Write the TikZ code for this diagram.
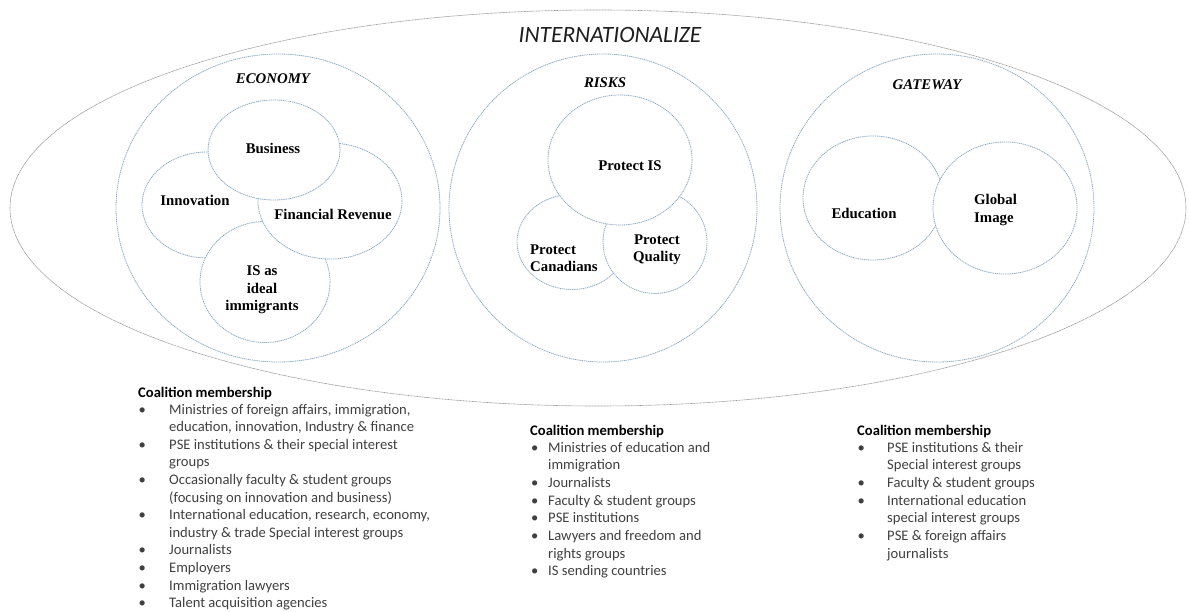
\documentclass[tikz,border=0pt]{standalone}
\usepackage{fontspec}
\setmainfont{Liberation Serif}
\newfontfamily\calibri{Carlito}
\usetikzlibrary{shapes.geometric}
\definecolor{ringblue}{RGB}{140,172,198}
\definecolor{ringgray}{RGB}{150,150,150}
\definecolor{itemgray}{RGB}{64,64,64}
\tikzset{
  ring/.style={ellipse, draw=ringblue, fill=white, line width=0.8pt,
    dash pattern=on 1.2pt off 0.7pt, inner sep=0pt},
  outerring/.style={ellipse, draw=ringgray, line width=0.6pt,
    dash pattern=on 1pt off 0.5pt, inner sep=0pt},
  lab/.style={font=\fontsize{14.8}{17.5}\selectfont\bfseries, inner sep=0pt, align=center},
  cat/.style={font=\fontsize{14.8}{17.5}\selectfont\bfseries\itshape, inner sep=0pt},
  ctitle/.style={anchor=base west, inner sep=0pt, text=black,
    font=\calibri\fontsize{14.6}{17.6}\selectfont\bfseries},
  citem/.style={anchor=base west, inner sep=0pt, text=itemgray,
    font=\calibri\fontsize{14.6}{17.6}\selectfont},
}
\begin{document}
\begin{tikzpicture}[x=1pt,y=-1pt]
\useasboundingbox (0,0) rectangle (1189,612);
% outer
\node[outerring, minimum width=1176pt, minimum height=396pt] (outer) at (598,208) {};
\node[inner sep=0pt, font=\calibri\fontsize{23.4}{28}\selectfont\itshape, text={rgb,255:red,30;green,30;blue,30}] (intl) at (610,35) {INTERNATIONALIZE};

% ECONOMY
\node[ring, minimum width=324pt, minimum height=308pt] (econ) at (278,208) {};
\node[cat] (econlab) at (273,79) {ECONOMY};
\node[ring, minimum width=130pt, minimum height=106pt] (innov) at (207,205) {};
\node[ring, minimum width=130pt, minimum height=121pt] (isc) at (265,282) {};
\node[ring, minimum width=144pt, minimum height=116pt] (fin) at (330,201) {};
\node[ring, minimum width=132pt, minimum height=100pt] (bus) at (274,150) {};
\node[lab] (buslab) at (273,148) {Business};
\node[lab] (innovlab) at (195,200) {Innovation};
\node[lab] (finlab) at (333,214) {Financial Revenue};
\node[lab] (islab) at (262,290) {IS as\\ideal\\immigrants};

% RISKS
\node[ring, minimum width=308pt, minimum height=308pt] (risk) at (603,208) {};
\node[cat] (risklab) at (605,83) {RISKS};
\node[ring, minimum width=110pt, minimum height=95pt] (canad) at (572,242) {};
\node[ring, minimum width=104pt, minimum height=103pt] (qual) at (655,242) {};
\node[ring, minimum width=144pt, minimum height=130pt] (pis) at (620,160) {};
\node[lab] (pislab) at (630,166) {Protect IS};
\node[lab, align=left, anchor=west] (canlab) at (530,258) {Protect\\Canadians};
\node[lab] (quallab) at (657,250) {Protect\\Quality};

% GATEWAY
\node[ring, minimum width=314pt, minimum height=308pt] (gate) at (937,208) {};
\node[cat] (gatelab) at (927,85) {GATEWAY};
\node[ring, minimum width=140pt, minimum height=124pt] (edu) at (873,198) {};
\node[ring, minimum width=144pt, minimum height=132pt] (glob) at (1005,208) {};
\node[lab] (edulab) at (864,213) {Education};
\node[lab, align=left, anchor=west] (globlab) at (974,210) {Global\\Image};

% Coalition block 1
\node[ctitle] (a0) at (138,397.5) {Coalition membership};
\node[citem] (a1b) at (138.5,414) {\textbullet};
\node[citem] (a1) at (169,414) {Ministries of foreign affairs, immigration,};
\node[citem] (a2) at (169,431.6) {education, innovation, Industry \& finance};
\node[citem] (a3b) at (138.5,449.2) {\textbullet};
\node[citem] (a3) at (169,449.2) {PSE institutions \& their special interest};
\node[citem] (a4) at (169,466.8) {groups};
\node[citem] (a5b) at (138.5,484.4) {\textbullet};
\node[citem] (a5) at (169,484.4) {Occasionally faculty \& student groups};
\node[citem] (a6) at (169,502) {(focusing on innovation and business)};
\node[citem] (a7b) at (138.5,519.6) {\textbullet};
\node[citem] (a7) at (169,519.6) {International education, research, economy,};
\node[citem] (a8) at (169,537.2) {industry \& trade Special interest groups};
\node[citem] (a9b) at (138.5,554.8) {\textbullet};
\node[citem] (a9) at (169,554.8) {Journalists};
\node[citem] (a10b) at (138.5,572.4) {\textbullet};
\node[citem] (a10) at (169,572.4) {Employers};
\node[citem] (a11b) at (138.5,590) {\textbullet};
\node[citem] (a11) at (169,590) {Immigration lawyers};
\node[citem] (a12b) at (138.5,607.6) {\textbullet};
\node[citem] (a12) at (169,607.6) {Talent acquisition agencies};

% Coalition block 2
\node[ctitle] (b0) at (530,435) {Coalition membership};
\node[citem] (b1b) at (531,452) {\textbullet};
\node[citem] (b1) at (548,452) {Ministries of education and};
\node[citem] (b2) at (548,469.7) {immigration};
\node[citem] (b3b) at (531,487.4) {\textbullet};
\node[citem] (b3) at (548,487.4) {Journalists};
\node[citem] (b4b) at (531,505.1) {\textbullet};
\node[citem] (b4) at (548,505.1) {Faculty \& student groups};
\node[citem] (b5b) at (531,522.8) {\textbullet};
\node[citem] (b5) at (548,522.8) {PSE institutions};
\node[citem] (b6b) at (531,540.5) {\textbullet};
\node[citem] (b6) at (548,540.5) {Lawyers and freedom and};
\node[citem] (b7) at (548,558.2) {rights groups};
\node[citem] (b8b) at (531,575.9) {\textbullet};
\node[citem] (b8) at (548,575.9) {IS sending countries};

% Coalition block 3
\node[ctitle] (c0) at (857,435) {Coalition membership};
\node[citem] (c1b) at (857.5,452) {\textbullet};
\node[citem] (c1) at (887,452) {PSE institutions \& their};
\node[citem] (c2) at (887,469.7) {Special interest groups};
\node[citem] (c3b) at (857.5,487.4) {\textbullet};
\node[citem] (c3) at (887,487.4) {Faculty \& student groups};
\node[citem] (c4b) at (857.5,505.1) {\textbullet};
\node[citem] (c4) at (887,505.1) {International education};
\node[citem] (c5) at (887,522.8) {special interest groups};
\node[citem] (c6b) at (857.5,540.5) {\textbullet};
\node[citem] (c6) at (887,540.5) {PSE \& foreign affairs};
\node[citem] (c7) at (887,558.2) {journalists};
\end{tikzpicture}
\end{document}
